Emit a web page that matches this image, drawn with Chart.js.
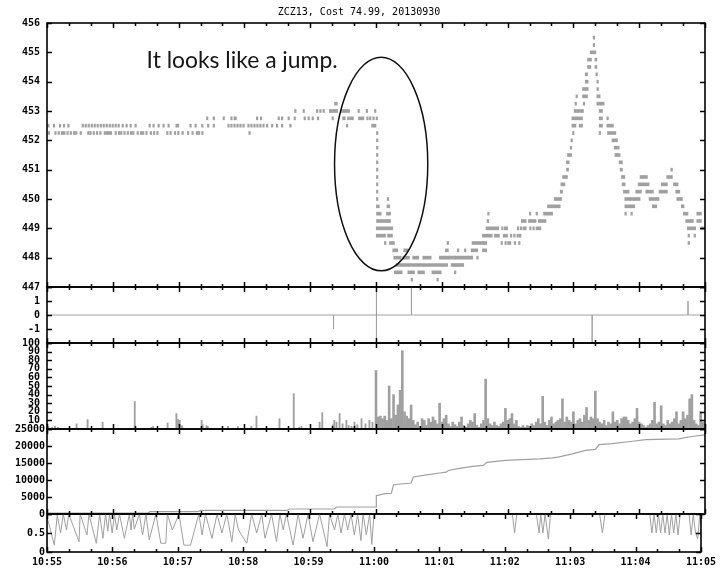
<!DOCTYPE html>
<html><head><meta charset="utf-8">
<script src="https://cdn.jsdelivr.net/npm/chart.js@4/dist/chart.umd.min.js"></script>
<style>
html,body{margin:0;padding:0;background:#fff;}
#wrap{position:relative;width:720px;height:570px;background:#fff;}
canvas{position:absolute;left:0;top:0;}
</style></head>
<body><div id="wrap">
<canvas id="p1" width="720" height="570"></canvas>
<canvas id="p2" width="720" height="570"></canvas>
<canvas id="p3" width="720" height="570"></canvas>
<canvas id="p4" width="720" height="570"></canvas>
<canvas id="p5" width="720" height="570"></canvas>
</div>
<script>
// ===== DATA (time = seconds after 10:55:00) =====
const chartTitle = 'ZCZ13, Cost 74.99, 20130930';
const noteText = 'It looks like a jump.';
const timeLabels = ['10:55','10:56','10:57','10:58','10:59','11:00','11:01','11:02','11:03','11:04','11:05'];

// trades: [price, time] (single trade) or [price, start, end] (run of trades)
const tradesBefore = [
 [452.25,1],[452.25,7],[452.25,10],[452.25,13],[452.25,14.5,16.5],[452.25,18],[452.25,21],[452.25,24],[452.25,26],[452.25,30],
 [452.25,37],[452.25,39],[452.25,42],[452.25,45],[452.25,48],[452.25,52],[452.25,54],[452.25,55.5,59],[452.25,62],[452.25,65],
 [452.25,67],[452.25,70],[452.25,73],[452.25,76],[452.25,78],[452.25,82],[452.25,85],[452.25,87],[452.25,90],[452.25,94],
 [452.25,97],[452.25,100],[452.25,109],[452.25,112],[452.25,116],[452.25,119],[452.25,123],[452.25,128],[452.25,132],
 [452.25,136],[452.25,138],[452.25,141],[452.25,184],
 [452.5,0.6],[452.5,5.7],[452.5,11.2],[452.5,14.8],[452.5,18.8],[452.5,31.9],[452.5,34.6],[452.5,37.3],[452.5,40.1],
 [452.5,42.8],[452.5,45.5],[452.5,48.3],[452.5,51],[452.5,53.7],[452.5,56.5],[452.5,59.2],[452.5,61.9],[452.5,64.6],
 [452.5,68.3],[452.5,71.9],[452.5,75.6],[452.5,80.1],[452.5,92.9],[452.5,96.5],[452.5,101.1],[452.5,105.6],[452.5,110.2],
 [452.5,117.5,120.2],[452.5,130.2],[452.5,134.8],[452.5,140.9],[452.5,146.3],[452.5,151.4],[452.5,164.8],[452.5,167.5],
 [452.5,170.3],[452.5,173],[452.5,175.7],[452.5,178.5],[452.5,183],[452.5,185.7],[452.5,188.5],[452.5,191.2],[452.5,193.9],
 [452.5,196.7],[452.5,200],[452.5,204.6],[452.5,209.1],[452.5,213.7],[452.5,221.3],[452.5,272.9],[452.5,296,300],
 [452.75,145.4],[452.75,151.4],[452.75,160.5],[452.75,167.5],[452.75,170.5,172.7],[452.75,190.9],[452.75,194.5],
 [452.75,210.6],[452.75,213.7],[452.75,219.7],[452.75,225.2],[452.75,234.3],[452.75,237.9],[452.75,241.6],[452.75,246.5],
 [452.75,259.8],[452.75,269.5,272],[452.75,274],[452.75,276,279.4],[452.75,284,289],[452.75,291.5],[452.75,294],
 [452.75,297],[452.75,300],
 [453,225.8],[453,233.4],[453,245.6],[453,248.6],[453,251.6],[453,257.5,265],[453,268.3,275.9],[453,283.5],[453,291],[453,298.6],
 [453.25,262.2,264.7]
];
const tradesJump = [
 [452.25,300.4],[452,300.4],[451.75,300.4],[451.5,300.4],[451.25,300.4],[451,300.4],[450.75,300.4],[450.5,300.4],[450.25,300.4]
];
const tradesAfter = [
 [450,300.4],[450,310.2],
 [449.75,300.4,303],[449.75,310,312.5],
 [449.5,300.5,304.7],[449.5,309.6,313.2],[449.5,401.8],[449.5,439.8],[449.5,445.9],[449.5,452.8,461],
 [449.25,300.5,313.2],[449.25,401.3],[449.25,432.5,437],[449.25,439,446],[449.25,448,455],
 [449,300.2,315.3],[449,400.3,412],[449,414.5],[449,417,420],[449,428.8],[449,431.5],[449,434,437],[449,440],[449,443],[449,445.9,450.4],
 [448.75,300.2,308.7],[448.75,310.5,315],[448.75,397,406],[448.75,408,412.5],[448.75,416,420],[448.75,422.5],[448.75,425.5],
 [448.75,428.5],[448.75,430.5,432.2],
 [448.5,307.7],[448.5,312.3,316.8],[448.5,364.8],[448.5,387.6,400.9],[448.5,414],[448.5,417.5],[448.5,420,423],[448.5,426],[448.5,430],
 [448.25,315.3,319.9],[448.25,325.3,329],[448.25,363.3,366],[448.25,374.2],[448.25,380.6],[448.25,386.7,392.7],[448.25,397,400.9],
 [448,316.2,323],[448,324.4,330.5],[448,333.5,339],[448,342.6,350.3],[448,357.8,388.2],[448,391.8],
 [447.75,318.4,365.4],[447.75,368.5,380],
 [447.5,316.8,323.9],[447.5,329,335.1],[447.5,338.1,344.2],[447.5,351,359.4],[447.5,371.5],
 [447.25,332],[447.25,355.5]
];
const tradesPeak = [
 [455.5,498],[455.25,498],[455,495.3,500.5],
 [454.75,492.9,496.5],[454.75,499.6,501.4],[454.5,492.9,495.9],[454.5,499.6,501.4],
 [454.25,490.8,492.9],[454.25,500.5],[454,490.8,493.5],[454,501.4],
 [453.75,488.3,493.5],[453.75,501.4],[453.5,482.3],[453.5,488.3,492.9],[453.5,501.4,504.4],
 [453.25,481.4],[453.25,488.9],[453.25,501.4,508],[453,480.7,489.2],[453,503.5,506.5],
 [452.75,478.6,488.3],[452.75,503.5,506.5],[452.75,510.5],
 [452.5,478.6,482.3],[452.5,485.3,488.3],[452.5,503.5,506.5],[452.5,510.5,516.5],
 [452.25,479.2],[452.25,503.5],[452.25,511.1,518.7],[452,477.7],[452,515.1,520.2],
 [451.75,477.1],[451.75,517.2,521.7],[451.5,474.6,478.3],[451.5,517.8,522.6],
 [451.25,473.7,476.2],[451.25,521.7,524.7],[451,473.7,475.6],[451,522.6,524.7],[451,568.8,570.3],
 [450.75,470.1,474.6],[450.75,523.8,526.9],[450.75,540.8,547.5],[450.75,565.1,570.3],
 [450.5,468.6,472.3],[450.5,524.4,527.2],[450.5,539,549],[450.5,560.2,565.7],[450.5,571.2,575.4],
 [450.25,468,470.1],[450.25,525.6,530.8],[450.25,536.9,542],[450.25,546,552.9],[450.25,558.1,565.7],[450.25,573.3,577],
 [450,462.5,469.2],[450,526.9,540.8],[450,549,558.1],[450,574.3,579.4],
 [449.75,456.4,468],[449.75,526.9,536],[449.75,552,556],[449.75,578.4,580.9],
 [449.5,526.9],[449.5,532.4],[449.5,580.3,584.5],[449.5,592.5,596.7],
 [449.25,582.4,589.4],[449.25,592.5,596.7],[449,583.9,591.5],[449,596.1,600],
 [448.75,584.5],[448.75,590],[448.5,584.5]
];

// jump signal: time, value
const signalTimes  = [261.3, 300.4, 300.4, 332.3, 497.1, 584.5];
const signalValues = [-1, 2, -2, 2, -2, 1];

// trade volume before 11:00: [time, volume]
const volumeBefore = [
 [1.2,3],[4.6,2],[7.3,3],[10,2],[27,6],[37,11],[50.7,8],[80,32],[95.3,2],[96.8,3],[110,7],[118,18],[119.5,11],[121,10],
 [123,4],[141,10],[142,5],[145.4,4],[146.6,3],[165,3],[174,3],[186.4,3],[191,15],[212,12],[225,41],[230,2],[232,3],
 [248.6,8],[251,19],[260.7,5],[262,10],[264,8],[266.8,18],[269.5,6],[273,10],[275,4],[277.7,3],[280.4,8],[283,5],
 [286.8,12],[290.4,6],[294,10],[296.8,8]
];
// trade volume from 11:00:00, one value every 2 seconds
const volumeAfterStart = 300, volumeAfterStep = 2;
const volumeAfter = [
 68,14,15,12,15,10,50,12,40,16, 28,45,91,20,15,12,28,10,5,8,
 3,12,10,4,12,8,14,10,6,30, 8,12,16,6,3,8,5,3,8,14,
 4,2,6,10,8,18,4,2,6,10, 58,12,6,4,8,4,3,6,8,24,
 10,12,18,6,10,3,2,4,2,4, 3,6,4,8,12,6,38,8,4,10,
 14,6,8,10,12,35,8,14,10,8, 20,6,10,12,8,16,25,10,14,12,
 44,12,8,6,10,4,8,6,20,8, 10,6,12,14,14,10,6,8,12,24,
 8,6,4,2,4,6,10,31,6,8, 27,6,4,10,6,8,12,20,6,10,
 20,12,16,35,40,10,6,4,20,8
];

// cumulative volume: [time, total]
const cumVolume = [
 [0,300],[92,300],[94,680],[138,680],[140,1060],[219,1060],[221,1470],[262,1470],[264,2060],[300,2060],[300.3,5380],
 [308,5970],[314,6100],[316,8600],[332,9100],[334,10900],[346,11500],[358,12060],[364,12300],[366,12800],[376,13400],
 [388,14000],[398,14300],[401,15200],[418,15800],[449,16200],[461,16500],[467,16800],[479,17700],[491,18700],[500,19000],
 [503.5,20400],[515,20700],[534,21400],[546,21900],[576,22100],[588,22800],[600,23300]
];

// bottom indicator (0..1): [time, value]
const indicator = [
 [0,0.93],[6.7,0.18],[9.4,0.97],[12.5,0.5],[14.9,1],[17.9,0.58],[20,1],[29.4,0.27],[30.4,1],[36.7,0.45],[38.5,1],
 [45.2,0.23],[48.3,1],[51.3,0.36],[53.7,1],[55.8,0.55],[57.4,1],[59.8,0.5],[61.9,1],[64,0.58],[66.5,1],[71,0.36],
 [75.6,1],[77.1,0.58],[78.6,1],[80.1,0.6],[84.7,1],[87.7,0.45],[90.8,1],[93.8,0.32],[99.9,1],[104.4,0.23],[109,0.23],
 [110.4,1],[115,0.58],[121.1,1],[125.6,0.18],[131.7,0.18],[139.3,1],[142.3,0.45],[145.4,1],[151.4,0.36],[156,1],
 [160.5,0.5],[165,1],[169.6,0.27],[172.7,1],[175.7,0.58],[183.3,0.23],[187.8,1],[192.4,0.5],[197,1],[200,0.36],[206,1],
 [210.6,0.27],[213.7,1],[216.7,0.58],[219.7,1],[225.8,0.18],[230.4,1],[234.9,0.36],[239.5,1],[244,0.27],[250.1,1],
 [257,0.14],[259.2,1],[263.8,0.58],[266.8,1],[269.8,0.5],[272.9,1],[275.9,0.58],[278.9,1],[282,0.45],[285,1],[288,0.3],
 [290,1],[293,0.45],[296,1],[298,0.2],[300,1],[427,1],[429,0.5],[431,1],[449,1],[451.5,0.5],[453,1],[455,0.5],[457,1],
 [460,0.34],[462,1],[507,1],[509.6,0.5],[512,1],[553,1],[555,0.5],[557,1],[559,0.5],[561,1],[563,0.5],[565,1],
 [567,0.5],[569,1],[571,0.45],[573,1],[575,0.5],[577,1],[579,0.45],[581,1],[589,1],[591,0.45],[593,1],[595,0.5],
 [597,0.35],[599,1],[600,0.7]
];

// ===== STYLE / LAYOUT =====
const GREY = '#a0a0a0';
const TICK_FONT = {family:'DejaVu Sans Mono', size:10, weight:'bold'};
const panels = [
 {id:'p1', top:23,  bottom:287},
 {id:'p2', top:287, bottom:343},
 {id:'p3', top:343, bottom:429},
 {id:'p4', top:429, bottom:514},
 {id:'p5', top:514, bottom:552}
];
const MARK_W = 1.4; // drawn width (s) of a single trade mark

const framePlugin = {
  id: 'frame',
  afterDraw(chart) {
    const {ctx, chartArea: a, scales} = chart;
    const xs = scales.x, ys = scales.y;
    ctx.save();
    ctx.strokeStyle = '#000';
    ctx.lineWidth = 1.5;
    ctx.beginPath();
    // x ticks (major per minute, minor per 20 s), inward at top and bottom
    for (let v = xs.min; v <= xs.max + 0.01; v += 20) {
      const px = Math.round(xs.getPixelForValue(v)) + 0.5;
      const len = (Math.round(v) % 60 === 0) ? 5 : 3;
      ctx.moveTo(px, a.top); ctx.lineTo(px, a.top + len);
      ctx.moveTo(px, a.bottom); ctx.lineTo(px, a.bottom - len);
    }
    // y ticks left and right, inward
    ys.ticks.forEach(t => {
      const py = Math.round(ys.getPixelForValue(t.value)) + 0.5;
      ctx.moveTo(a.left, py); ctx.lineTo(a.left + 5, py);
      ctx.moveTo(a.right, py); ctx.lineTo(a.right - 5, py);
    });
    ctx.stroke();
    ctx.lineWidth = 1.6;
    ctx.strokeRect(Math.round(a.left), Math.round(a.top), Math.round(a.right - a.left), Math.round(a.bottom - a.top));
    ctx.restore();
  }
};

const notePlugin = {
  id: 'note',
  afterDraw(chart) {
    const {ctx, scales: {x, y}} = chart;
    ctx.save();
    // title
    ctx.fillStyle = '#000';
    ctx.font = '10px "DejaVu Sans Mono"';
    ctx.textAlign = 'center'; ctx.textBaseline = 'middle';
    ctx.fillText(chartTitle, 359, 12.5);
    // note text
    ctx.textAlign = 'left'; ctx.textBaseline = 'alphabetic';
    ctx.font = '22px Lato';
    const w = ctx.measureText(noteText).width;
    const size = 22 * 191 / w;
    ctx.font = size.toFixed(2) + 'px Lato';
    ctx.fillStyle = '#151515';
    ctx.fillText(noteText, x.getPixelForValue(90.8), y.getPixelForValue(454.48));
    // ellipse
    const cx = x.getPixelForValue(304.7), cy = y.getPixelForValue(451.19);
    const rx = x.getPixelForValue(304.7 + 42.5) - cx;
    const ry = cy - y.getPixelForValue(451.19 + 3.64);
    ctx.beginPath();
    ctx.ellipse(cx, cy, rx, ry, 0, 0, Math.PI * 2);
    ctx.strokeStyle = '#111'; ctx.lineWidth = 1.5;
    ctx.stroke();
    ctx.restore();
  }
};

function yScale(min, max, step, hide, pad) {
  return {
    type: 'linear', min, max, offset: false,
    grid: {display: false, drawTicks: false}, border: {display: false},
    afterFit(s) { s.width = 47; },
    ticks: {
      stepSize: step, autoSkip: false, padding: pad, color: '#000', font: TICK_FONT,
      callback: v => hide.includes(v) ? '' : String(v)
    }
  };
}
function xScale(show) {
  const s = {type: 'linear', min: 0, max: 600, offset: false, display: show,
    grid: {display: false, drawTicks: false}, border: {display: false}};
  if (show) {
    s.afterFit = sc => { sc.height = 18; };
    s.ticks = {stepSize: 60, autoSkip: false, maxRotation: 0, padding: 4, color: '#000', font: TICK_FONT,
      callback: v => timeLabels[Math.round(v / 60)]};
  }
  return s;
}
function options(p, ys, showX, extra) {
  return Object.assign({
    responsive: false, animation: false, events: [],
    layout: {padding: {left: 0, right: 15, top: p.top, bottom: showX ? 0 : 570 - p.bottom}},
    plugins: {legend: {display: false}, tooltip: {enabled: false}, title: {display: false}},
    scales: {x: xScale(showX), y: ys}
  }, extra || {});
}

const toBars = rows => rows.map(r => ({y: r[0], x: [r[1], r.length > 2 ? r[2] : r[1] + MARK_W]}));

// Panel 1: price trades
new Chart(document.getElementById('p1'), {
  type: 'bar',
  data: {datasets: [{
    data: toBars(tradesBefore.concat(tradesJump, tradesAfter, tradesPeak)),
    backgroundColor: GREY, borderWidth: 0, barThickness: 3, grouped: false
  }]},
  options: options(panels[0], yScale(447, 456, 1, [], 7), false, {indexAxis: 'y'}),
  plugins: [framePlugin, notePlugin]
});

// Panel 2: jump signal
const signalLine = [{x: 0, y: 0}];
signalTimes.forEach((t, i) => { signalLine.push({x: t, y: 0}, {x: t, y: signalValues[i]}, {x: t, y: 0}); });
signalLine.push({x: 600, y: 0});
new Chart(document.getElementById('p2'), {
  type: 'line',
  data: {datasets: [{data: signalLine, borderColor: GREY, borderWidth: 1, pointRadius: 0, tension: 0}]},
  options: options(panels[1], yScale(-2, 2, 1, [2, -2], 7), false),
  plugins: [framePlugin]
});

// Panel 3: volume
new Chart(document.getElementById('p3'), {
  type: 'bar',
  data: {datasets: [
    {data: volumeBefore.map(d => ({x: d[0], y: d[1]})), backgroundColor: GREY, barThickness: 1.2, grouped: false},
    {data: volumeAfter.map((v, i) => ({x: volumeAfterStart + i * volumeAfterStep, y: v})), backgroundColor: GREY, barThickness: 2, grouped: false}
  ]},
  options: options(panels[2], yScale(0, 100, 10, [0], 7), false),
  plugins: [framePlugin]
});

// Panel 4: cumulative volume
new Chart(document.getElementById('p4'), {
  type: 'line',
  data: {datasets: [{data: cumVolume.map(d => ({x: d[0], y: d[1]})), borderColor: GREY, borderWidth: 1.2, pointRadius: 0, tension: 0}]},
  options: options(panels[3], yScale(0, 25000, 5000, [], 2), false),
  plugins: [framePlugin]
});

// Panel 5: indicator
new Chart(document.getElementById('p5'), {
  type: 'line',
  data: {datasets: [{data: indicator.map(d => ({x: d[0], y: d[1]})), borderColor: GREY, borderWidth: 1, pointRadius: 0, tension: 0}]},
  options: options(panels[4], yScale(0, 1, 0.5, [1], 2), true),
  plugins: [framePlugin]
});
</script>
</body></html>
